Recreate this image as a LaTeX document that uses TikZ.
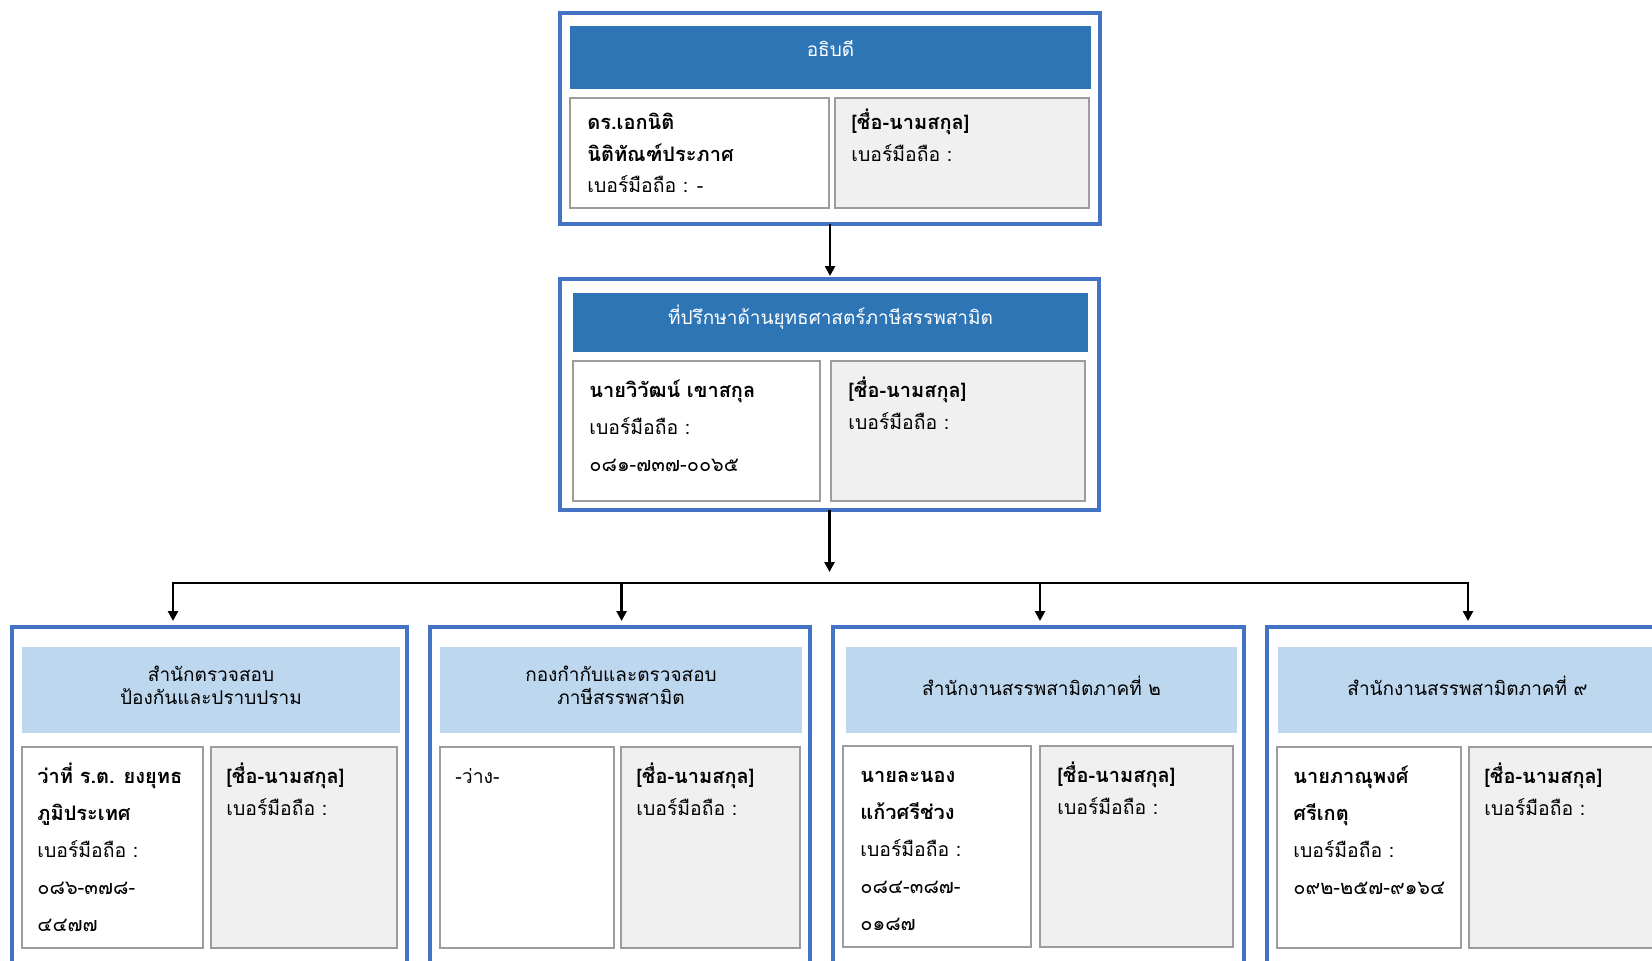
\documentclass[tikz,border=0pt]{standalone}
\usepackage{fontspec}
\newfontfamily\thaifont[Script=Thai]{Loma}
\usetikzlibrary{arrows.meta}
\definecolor{headdark}{HTML}{2E75B6}
\definecolor{headlight}{HTML}{BDD7EE}
\definecolor{frameblue}{HTML}{4472C4}
\definecolor{cellline}{HTML}{9C9C9C}
\definecolor{cellgray}{HTML}{F0F0F0}
\newcommand{\firstline}{\rule{0pt}{12pt}}
\newcommand{\nm}[1]{{\fontsize{10}{12}\selectfont\bfseries #1}}
\newcommand{\tel}[1]{{\fontsize{10}{12}\selectfont #1}}
\begin{document}
\begin{tikzpicture}[x=0.5pt, y=-0.5pt, every node/.style={font=\thaifont}]
  \tikzstyle{frame}=[draw=frameblue,line width=1.8pt,fill=white,anchor=north west,inner sep=0pt,outer sep=0pt]
  \tikzstyle{darkhead}=[fill=headdark,anchor=north west,inner sep=0pt,outer sep=0pt]
  \tikzstyle{lighthead}=[fill=headlight,anchor=north west,inner sep=0pt,outer sep=0pt]
  \tikzstyle{headtext}=[inner sep=0pt,align=center,font=\thaifont\fontsize{9.5}{11.5}\selectfont]
  \tikzstyle{namecell}=[draw=cellline,line width=1pt,fill=white,anchor=north west,inner sep=0pt,outer sep=0pt]
  \tikzstyle{blankcell}=[namecell,fill=cellgray]
  \tikzstyle{celltext}=[anchor=north west,inner sep=0pt,align=left,font=\thaifont\fontsize{9.7}{15.8}\selectfont]
  \tikzstyle{celltextwide}=[celltext,font=\thaifont\fontsize{9.7}{18.5}\selectfont]
  \tikzstyle{conn}=[line width=1.4pt,black]
  \tikzstyle{arr}=[conn,-{Triangle[length=5pt,width=5pt]},shorten >=1.5pt]
  \useasboundingbox (0,0) rectangle (1652,960);
  \clip (0,0) rectangle (1652,960);
  \fill[white] (0,0) rectangle (1652,960);
  % director
  \node[frame,minimum width=270pt,minimum height=105.5pt] (dir) at (560,13) {};
  \node[darkhead,minimum width=260.5pt,minimum height=31.5pt] (dirhead) at (570,26) {};
  \node[headtext,text=white] (dirheadtext) at ([yshift=4.7pt]dirhead.center) {อธิบดี};
  \node[namecell,minimum width=129.5pt,minimum height=55pt] (dircellA) at (570,98) {};
  \node[blankcell,minimum width=127pt,minimum height=55pt] (dircellB) at (835,98) {};
  \node[celltext] (dirtextA) at (587,105) {\firstline\nm{ดร.เอกนิติ}\\\nm{นิติทัณฑ์ประภาศ}\\เบอร์มือถือ : -};
  \node[celltext] (dirtextB) at (851,105) {\firstline\nm{[ชื่อ-นามสกุล]}\\เบอร์มือถือ :};
  % advisor
  \node[frame,minimum width=269.5pt,minimum height=115.5pt] (adv) at (560,279) {};
  \node[darkhead,minimum width=257.5pt,minimum height=29.5pt] (advhead) at (573,293) {};
  \node[headtext,text=white] (advheadtext) at ([yshift=2.6pt]advhead.center) {ที่ปรึกษาด้านยุทธศาสตร์ภาษีสรรพสามิต};
  \node[namecell,minimum width=123.5pt,minimum height=70pt] (advcellA) at (573,361) {};
  \node[blankcell,minimum width=127pt,minimum height=70pt] (advcellB) at (831,361) {};
  \node[celltextwide] (advtextA) at (589,373.5) {\firstline\nm{นายวิวัฒน์ เขาสกุล}\\เบอร์มือถือ :\\\tel{๐๘๑-๗๓๗-๐๐๖๕}};
  \node[celltext] (advtextB) at (848,373.5) {\firstline\nm{[ชื่อ-นามสกุล]}\\เบอร์มือถือ :};
  % offices
  \node[frame,minimum width=197.5pt,minimum height=171.5pt] (inspect) at (11.7,627) {};
  \node[lighthead,minimum width=189pt,minimum height=43pt] (inspecthead) at (22,647) {};
  \node[headtext] (inspectheadtext) at ([yshift=2.2pt]inspecthead.center) {สำนักตรวจสอบ\\ป้องกันและปราบปราม};
  \node[namecell,minimum width=90.5pt,minimum height=100.5pt] (inspectcellA) at (22,747) {};
  \node[blankcell,minimum width=93pt,minimum height=100.5pt] (inspectcellB) at (211,747) {};
  \node[celltextwide] (inspecttextA) at (37,759.5) {\firstline\nm{ว่าที่ ร.ต. ยงยุทธ}\\\nm{ภูมิประเทศ}\\เบอร์มือถือ :\\\tel{๐๘๖-๓๗๘-}\\\tel{๔๔๗๗}};
  \node[celltext] (inspecttextB) at (226,759.5) {\firstline\nm{[ชื่อ-นามสกุล]}\\เบอร์มือถือ :};

  \node[frame,minimum width=190pt,minimum height=171.5pt] (control) at (430,627) {};
  \node[lighthead,minimum width=181pt,minimum height=43pt] (controlhead) at (440,647) {};
  \node[headtext] (controlheadtext) at ([yshift=2.2pt]controlhead.center) {กองกำกับและตรวจสอบ\\ภาษีสรรพสามิต};
  \node[namecell,minimum width=87pt,minimum height=100.5pt] (controlcellA) at (440,747) {};
  \node[blankcell,minimum width=89.5pt,minimum height=100.5pt] (controlcellB) at (621,747) {};
  \node[celltextwide] (controltextA) at (455,759.5) {\firstline-ว่าง-};
  \node[celltext] (controltextB) at (636,759.5) {\firstline\nm{[ชื่อ-นามสกุล]}\\เบอร์มือถือ :};

  \node[frame,minimum width=205.5pt,minimum height=171.5pt] (region2) at (833,627) {};
  \node[lighthead,minimum width=195.5pt,minimum height=43pt] (region2head) at (846,647) {};
  \node[headtext] (region2headtext) at ([yshift=2.2pt]region2head.center) {สำนักงานสรรพสามิตภาคที่ ๒};
  \node[namecell,minimum width=94pt,minimum height=100.5pt] (region2cellA) at (843,746) {};
  \node[blankcell,minimum width=96.5pt,minimum height=100.5pt] (region2cellB) at (1040,746) {};
  \node[celltextwide] (region2textA) at (860,758.5) {\firstline\nm{นายละนอง}\\\nm{แก้วศรีช่วง}\\เบอร์มือถือ :\\\tel{๐๘๔-๓๘๗-}\\\tel{๐๑๘๗}};
  \node[celltext] (region2textB) at (1057,758.5) {\firstline\nm{[ชื่อ-นามสกุล]}\\เบอร์มือถือ :};

  \node[frame,minimum width=200.5pt,minimum height=171.5pt] (region9) at (1267,627) {};
  \node[lighthead,minimum width=189.5pt,minimum height=43pt] (region9head) at (1278,647) {};
  \node[headtext] (region9headtext) at ([yshift=2.2pt]region9head.center) {สำนักงานสรรพสามิตภาคที่ ๙};
  \node[namecell,minimum width=92pt,minimum height=100.5pt] (region9cellA) at (1277,747) {};
  \node[blankcell,minimum width=93pt,minimum height=100.5pt] (region9cellB) at (1469,747) {};
  \node[celltextwide] (region9textA) at (1293,759.5) {\firstline\nm{นายภาณุพงศ์}\\\nm{ศรีเกตุ}\\เบอร์มือถือ :\\\tel{๐๙๒-๒๕๗-๙๑๖๔}};
  \node[celltext] (region9textB) at (1484,759.5) {\firstline\nm{[ชื่อ-นามสกุล]}\\เบอร์มือถือ :};
  % connectors
  \coordinate (busA) at (173,583);
  \coordinate (busB) at (621.6,583);
  \coordinate (busC) at (1040,583);
  \coordinate (busD) at (1468,583);
  \coordinate (split) at (adv.south |- 0,575);
  \draw[arr] (dir.south) -- (dir.south |- adv.north);
  \draw[arr] (adv.south) -- (split);
  \draw[conn,{Triangle[length=5pt,width=5pt]}-{Triangle[length=5pt,width=5pt]},shorten <=3pt,shorten >=3pt] (inspect.north -| busA) -- (busA) -- (busD) -- (region9.north -| busD);
  \draw[arr,shorten >=3pt] (busB) -- (control.north -| busB);
  \draw[arr,shorten >=3pt] (busC) -- (region2.north -| busC);
\end{tikzpicture}
\end{document}
